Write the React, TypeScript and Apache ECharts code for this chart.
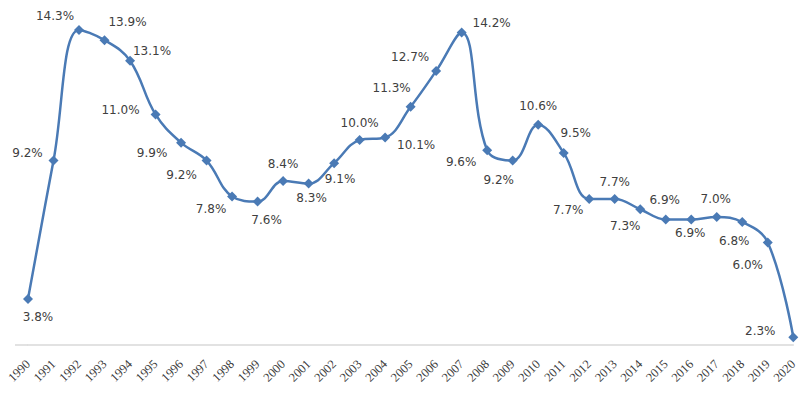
import React, { useEffect, useRef } from "react";
import * as echarts from "echarts";

const years = [
  "1990","1991","1992","1993","1994","1995","1996","1997","1998","1999",
  "2000","2001","2002","2003","2004","2005","2006","2007","2008","2009",
  "2010","2011","2012","2013","2014","2015","2016","2017","2018","2019","2020",
];
const growth = [
  3.8, 9.2, 14.3, 13.9, 13.1, 11.0, 9.9, 9.2, 7.8, 7.6,
  8.4, 8.3, 9.1, 10.0, 10.1, 11.3, 12.7, 14.2, 9.6, 9.2,
  10.6, 9.5, 7.7, 7.7, 7.3, 6.9, 6.9, 7.0, 6.8, 6.0, 2.3,
];
// label offsets (px) relative to each marker
const labelOffsets: [number, number][] = [
  [10, 18], [-26, -8], [-24, -14], [23, -18], [22, -10], [-35, -4], [-29, 10], [-25, 14], [-21, 13], [9, 18],
  [0, -17], [3, 14], [6, 16], [0, -17], [31, 7], [-19, -19], [-26, -14], [30, -9], [-26, 12], [-14, 19],
  [0, -19], [12, -20], [-21, 11], [0, -17], [-15, 17], [-1, -19], [-1, 14], [-1, -18], [-8, 19], [-20, 22],
  [-33, -6],
];

export default function App() {
  const ref = useRef<HTMLDivElement>(null);
  useEffect(() => {
    if (!ref.current) return;
    const chart = echarts.init(ref.current, undefined, { renderer: "svg" });
    chart.setOption({
      animation: false,
      backgroundColor: "#ffffff",
      grid: { left: 28, right: 5, top: 12, bottom: 52 },
      graphic: [
        {
          type: "line",
          shape: { x1: 15, y1: 345, x2: 28, y2: 345 },
          style: { stroke: "#d9d9d9", lineWidth: 1.5 },
        },
      ],
      xAxis: {
        type: "category",
        data: years,
        boundaryGap: false,
        axisLine: { show: true, lineStyle: { color: "#d9d9d9", width: 1.5 } },
        axisTick: { show: false },
        axisLabel: {
          rotate: 45,
          interval: 0,
          margin: 17,
          color: "#3a3a3a",
          fontFamily: "Liberation Serif",
          fontSize: 12.5,
        },
      },
      yAxis: {
        type: "value",
        min: 2,
        max: 15,
        show: false,
        splitLine: { show: false },
      },
      series: [
        {
          type: "line",
          smooth: 0.4,
          data: growth.map((v, i) => ({
            value: v,
            label: { offset: labelOffsets[i] },
          })),
          symbol: "diamond",
          symbolSize: 10,
          lineStyle: { color: "#4a7ab5", width: 2.5 },
          itemStyle: { color: "#4a7ab5" },
          label: {
            show: true,
            position: "inside",
            formatter: (p: any) => p.value.toFixed(1) + "%",
            color: "#404040",
            fontFamily: "DejaVu Sans",
            fontSize: 12,
          },
        },
      ],
    });
    return () => chart.dispose();
  }, []);
  return <div ref={ref} style={{ width: 800, height: 397, position: "absolute", left: 0, top: 0 }} />;
}
